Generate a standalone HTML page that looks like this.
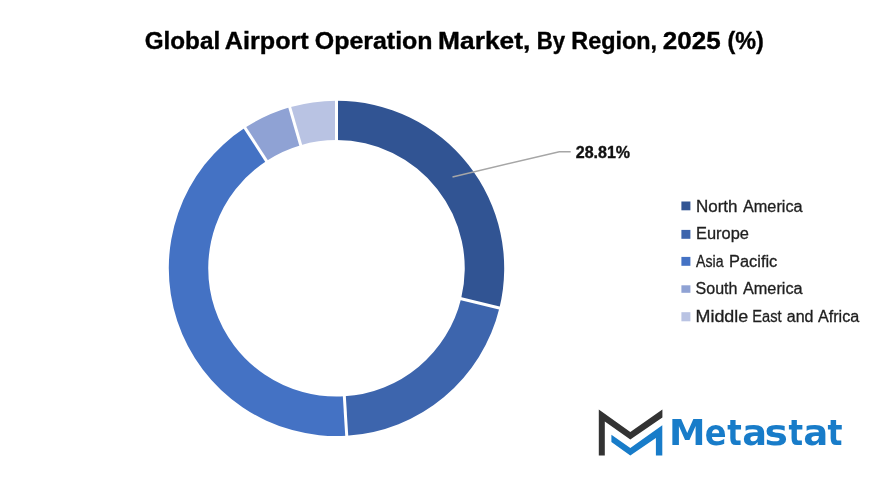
<!DOCTYPE html>
<html><head><meta charset="utf-8"><title>Global Airport Operation Market, By Region, 2025 (%)</title>
<style>
html,body{margin:0;padding:0;background:#fff;}
body{width:880px;height:484px;overflow:hidden;}
svg{display:block;font-family:"Liberation Sans",sans-serif;}
.dj{font-family:"DejaVu Sans","Liberation Sans",sans-serif;}
</style></head><body>
<svg width="880" height="484" viewBox="0 0 880 484">
<rect width="880" height="484" fill="#fff"/>
<g>
<text y="48.5" font-size="23.0" font-weight="bold" fill="#000" stroke="#000" stroke-width="0.35"><tspan x="144.76" textLength="75.36" lengthAdjust="spacingAndGlyphs">Global</tspan> <tspan x="224.88" textLength="83.78" lengthAdjust="spacingAndGlyphs">Airport</tspan> <tspan x="314.76" textLength="117.85" lengthAdjust="spacingAndGlyphs">Operation</tspan> <tspan x="438.09" textLength="92.21" lengthAdjust="spacingAndGlyphs">Market,</tspan> <tspan x="536.72" textLength="28.42" lengthAdjust="spacingAndGlyphs">By</tspan> <tspan x="571.28" textLength="85.78" lengthAdjust="spacingAndGlyphs">Region,</tspan> <tspan x="662.79" textLength="57.83" lengthAdjust="spacingAndGlyphs">2025</tspan> <tspan x="727.53" textLength="36.34" lengthAdjust="spacingAndGlyphs">(%)</tspan></text>
</g>
<g>
<path d="M336.50 100.65A167.7 167.7 0 0 1 499.43 308.07L461.10 298.72A128.25 128.25 0 0 0 336.50 140.10Z" fill="#315493"/>
<path d="M499.43 308.07A167.7 167.7 0 0 1 346.74 435.74L344.33 396.36A128.25 128.25 0 0 0 461.10 298.72Z" fill="#3D65AD"/>
<path d="M346.74 435.74A167.7 167.7 0 0 1 244.92 127.86L266.46 160.91A128.25 128.25 0 0 0 344.33 396.36Z" fill="#4472C4"/>
<path d="M244.92 127.86A167.7 167.7 0 0 1 289.71 107.31L300.72 145.19A128.25 128.25 0 0 0 266.46 160.91Z" fill="#8FA2D4"/>
<path d="M289.71 107.31A167.7 167.7 0 0 1 336.50 100.65L336.50 140.10A128.25 128.25 0 0 0 300.72 145.19Z" fill="#B9C3E3"/>
<line x1="336.50" y1="142.10" x2="336.50" y2="98.65" stroke="#fff" stroke-width="3.0"/>
<line x1="459.16" y1="298.25" x2="501.37" y2="308.54" stroke="#fff" stroke-width="3.0"/>
<line x1="344.21" y1="394.36" x2="346.86" y2="437.73" stroke="#fff" stroke-width="3.0"/>
<line x1="267.55" y1="162.59" x2="243.83" y2="126.19" stroke="#fff" stroke-width="3.0"/>
<line x1="301.28" y1="147.11" x2="289.16" y2="105.39" stroke="#fff" stroke-width="3.0"/>
</g>
<polyline points="452.5,176.9 559.3,151.7 570.7,151.7" fill="none" stroke="#a6a6a6" stroke-width="1.5"/>
<text y="157.6" font-size="16.2" font-weight="bold" fill="#111" stroke="#111" stroke-width="0.35"><tspan x="575.73" textLength="54.42" lengthAdjust="spacingAndGlyphs">28.81%</tspan></text>
<g>
<rect x="681.4" y="201.5" width="9" height="8.8" fill="#315493"/>
<rect x="681.4" y="229.9" width="9" height="8.9" fill="#3D65AD"/>
<rect x="681.4" y="256.9" width="9" height="8.9" fill="#4472C4"/>
<rect x="681.4" y="285.3" width="9" height="7.5" fill="#8FA2D4"/>
<rect x="681.4" y="312.2" width="9" height="9.1" fill="#B9C3E3"/>
<text y="212.0" font-size="15.8" fill="#1f1f1f" stroke="#1f1f1f" stroke-width="0.3"><tspan x="695.95" textLength="41.53" lengthAdjust="spacingAndGlyphs">North</tspan> <tspan x="742.96" textLength="59.67" lengthAdjust="spacingAndGlyphs">America</tspan></text>
<text y="238.6" font-size="15.8" fill="#1f1f1f" stroke="#1f1f1f" stroke-width="0.3"><tspan x="696.00" textLength="52.94" lengthAdjust="spacingAndGlyphs">Europe</tspan></text>
<text y="266.9" font-size="15.8" fill="#1f1f1f" stroke="#1f1f1f" stroke-width="0.3"><tspan x="696.00" textLength="27.50" lengthAdjust="spacingAndGlyphs">Asia</tspan> <tspan x="729.00" textLength="48.29" lengthAdjust="spacingAndGlyphs">Pacific</tspan></text>
<text y="293.8" font-size="15.8" fill="#1f1f1f" stroke="#1f1f1f" stroke-width="0.3"><tspan x="695.54" textLength="41.93" lengthAdjust="spacingAndGlyphs">South</tspan> <tspan x="742.96" textLength="59.67" lengthAdjust="spacingAndGlyphs">America</tspan></text>
<text y="322.0" font-size="15.8" fill="#1f1f1f" stroke="#1f1f1f" stroke-width="0.3"><tspan x="695.52" textLength="52.71" lengthAdjust="spacingAndGlyphs">Middle</tspan> <tspan x="752.25" textLength="29.31" lengthAdjust="spacingAndGlyphs">East</tspan> <tspan x="786.75" textLength="26.75" lengthAdjust="spacingAndGlyphs">and</tspan> <tspan x="817.92" textLength="41.32" lengthAdjust="spacingAndGlyphs">Africa</tspan></text>
</g>
<g>
<path d="M598.8 409.4 L630.3 432 L662.4 409.4 L662.4 417.4 L630.3 439.4 L604.8 421.4 L604.8 455.5 L598.8 455.5 Z" fill="#333"/>
<path d="M611.4 434.8 L630.3 448.1 L662.3 425.3 L662.3 455.5 L655.9 455.5 L655.9 438 L630.3 455.5 L611.4 442 Z" fill="#187cc9"/>
<text class="dj" y="445.2" font-size="35.6" font-weight="bold" fill="#187cc9"><tspan x="668.97" textLength="36.51" lengthAdjust="spacingAndGlyphs">M</tspan><tspan x="704.76" textLength="21.85" lengthAdjust="spacingAndGlyphs">e</tspan><tspan x="727.33" textLength="14.49" lengthAdjust="spacingAndGlyphs">t</tspan><tspan x="742.30" textLength="24.82" lengthAdjust="spacingAndGlyphs">a</tspan><tspan x="764.60" textLength="23.48" lengthAdjust="spacingAndGlyphs">s</tspan><tspan x="788.59" textLength="14.55" lengthAdjust="spacingAndGlyphs">t</tspan><tspan x="803.27" textLength="25.02" lengthAdjust="spacingAndGlyphs">a</tspan><tspan x="827.58" textLength="14.99" lengthAdjust="spacingAndGlyphs">t</tspan></text>
</g>
</svg>
</body></html>
